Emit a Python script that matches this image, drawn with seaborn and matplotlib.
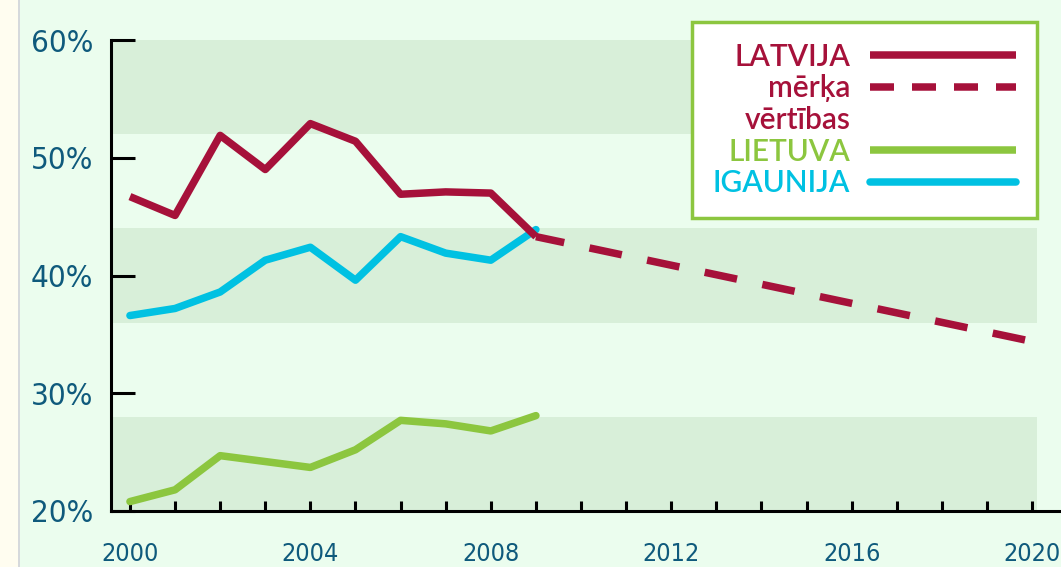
import matplotlib
matplotlib.use("Agg")
import matplotlib.pyplot as plt
from matplotlib import font_manager
from matplotlib.lines import Line2D
from matplotlib.patches import Rectangle
from matplotlib.ticker import MultipleLocator, FixedLocator, FuncFormatter
import pandas as pd
import seaborn as sns

# data
years = [2000, 2001, 2002, 2003, 2004, 2005, 2006, 2007, 2008, 2009]
latvija = [46.7, 45.1, 51.9, 49.0, 52.9, 51.4, 46.9, 47.1, 47.0, 43.3]
igaunija = [36.6, 37.2, 38.6, 41.3, 42.4, 39.6, 43.3, 41.9, 41.3, 43.9]
lietuva = [20.8, 21.8, 24.7, 24.2, 23.7, 25.2, 27.7, 27.4, 26.8, 28.1]
target_years = [2009, 2020]
target_vals = [43.3, 34.4]
bands = [(20, 28), (36, 44), (52, 60)]
y_ticks = [20, 30, 40, 50, 60]
x_labels = [2000, 2004, 2008, 2012, 2016, 2020]

RED = "#a6113a"
GREEN = "#8cc63f"
CYAN = "#00c1e2"
BG = "#ebfdee"
BAND = "#d8efd9"
TXT = "#0f5a7c"

# pick a condensed face for the tick labels if one is installed
fonts = font_manager.fontManager.ttflist
names = {f.name for f in fonts}
tick_font, tick_stretch = "Liberation Sans", "normal"
if "Liberation Sans Narrow" in names:
    tick_font = "Liberation Sans Narrow"
elif any(f.name == "DejaVu Sans" and f.stretch in ("condensed", "semi-condensed") for f in fonts):
    tick_font, tick_stretch = "DejaVu Sans", "condensed"
leg_font = "Lato" if "Lato" in names else "DejaVu Sans"

sns.set_style("white")
plt.rcParams["font.family"] = [tick_font, "DejaVu Sans"]
plt.rcParams["font.stretch"] = tick_stretch

fig = plt.figure(figsize=(10.61, 5.67), dpi=100, facecolor=BG)
ax = fig.add_axes([111 / 1061, 1 - 511 / 567, 1 - 111 / 1061, (511 - 40) / 567])
ax.set_facecolor(BG)

# cream strip on the far left
fig.patches.append(Rectangle((0, 0), 18 / 1061, 1, transform=fig.transFigure,
                             facecolor="#fffdf0", edgecolor="none", zorder=0))
fig.patches.append(Rectangle((18 / 1061, 0), 2 / 1061, 1, transform=fig.transFigure,
                             facecolor="#d6d9dc", edgecolor="none", zorder=0))

x0, x1 = 1999.58, 2020.64
for lo, hi in bands:
    ax.fill_between([x0, 2020.1], lo, hi, color=BAND, lw=0, zorder=0)

df = pd.DataFrame({"year": years, "LATVIJA": latvija,
                   "IGAUNIJA": igaunija, "LIETUVA": lietuva})
tgt = pd.DataFrame({"year": target_years, "val": target_vals})

sns.lineplot(data=df, x="year", y="LIETUVA", ax=ax, color=GREEN, lw=5.4,
             solid_capstyle="round", zorder=3)
sns.lineplot(data=df, x="year", y="IGAUNIJA", ax=ax, color=CYAN, lw=5.4,
             solid_capstyle="round", zorder=3)
sns.lineplot(data=df, x="year", y="LATVIJA", ax=ax, color=RED, lw=5.4,
             solid_capstyle="butt", zorder=4)
sns.lineplot(data=tgt, x="year", y="val", ax=ax, color=RED, lw=5.4,
             dashes=False, zorder=4)
ax.lines[-1].set_linestyle((0.55, (4.4, 3.45)))
ax.lines[-1].set_dash_capstyle("butt")

ax.set_xlim(x0, x1)
ax.set_ylim(20, 60)
ax.set_xlabel("")
ax.set_ylabel("")
for s in ["top", "right"]:
    ax.spines[s].set_visible(False)
for s in ["left", "bottom"]:
    ax.spines[s].set_color("black")
    ax.spines[s].set_linewidth(2.2)

ax.xaxis.set_major_locator(FixedLocator(x_labels))
ax.xaxis.set_minor_locator(MultipleLocator(1))
ax.yaxis.set_major_locator(FixedLocator(y_ticks))
ax.yaxis.set_major_formatter(FuncFormatter(lambda v, p: f"{v:.0f}%"))
ax.tick_params(axis="x", which="both", direction="in", length=7.5, width=2.2,
               color="black", bottom=True, pad=22, labelsize=18, labelcolor=TXT)
ax.tick_params(axis="y", which="major", direction="in", length=17, width=2.2,
               color="black", left=True, pad=13, labelsize=22.5, labelcolor=TXT)

handles = [Line2D([], [], color=RED, lw=5.4, solid_capstyle="butt"),
           Line2D([], [], color=RED, lw=5.4, dashes=(3.2, 2.4), dash_capstyle="butt"),
           Line2D([], [], color=RED, lw=0),
           Line2D([], [], color=GREEN, lw=5.4, solid_capstyle="butt"),
           Line2D([], [], color=CYAN, lw=5.4, solid_capstyle="round")]
labels = ["LATVIJA", "mērķa", "vērtības", "LIETUVA", "IGAUNIJA"]
leg = fig.legend(handles, labels, loc="upper right",
                 bbox_to_anchor=(1037 / 1061, 1 - 22 / 567),
                 bbox_transform=fig.transFigure, markerfirst=False,
                 prop={"family": [leg_font, "DejaVu Sans"], "size": 21.5,
                       "weight": "semibold", "stretch": "normal"},
                 handlelength=4.9, handletextpad=0.65, labelspacing=0.12,
                 borderpad=0.7, borderaxespad=0, frameon=True, fancybox=False,
                 facecolor="white", edgecolor=GREEN, framealpha=1)
leg.get_frame().set_linewidth(2.5)
for t, c in zip(leg.get_texts(), [RED, RED, RED, GREEN, CYAN]):
    t.set_color(c)

fig.savefig("out.png", dpi=100, facecolor=BG)
